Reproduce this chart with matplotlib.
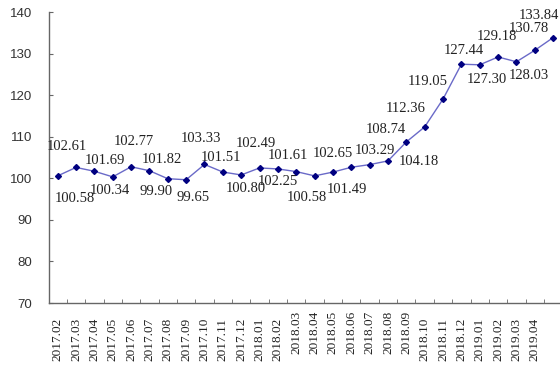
import numpy as np
import matplotlib
matplotlib.use("Agg")
import matplotlib.pyplot as plt
from matplotlib.transforms import ScaledTranslation

# data
months = ["2017.02", "2017.03", "2017.04", "2017.05", "2017.06", "2017.07",
          "2017.08", "2017.09", "2017.10", "2017.11", "2017.12", "2018.01",
          "2018.02", "2018.03", "2018.04", "2018.05", "2018.06", "2018.07",
          "2018.08", "2018.09", "2018.10", "2018.11", "2018.12", "2019.01",
          "2019.02", "2019.03", "2019.04", ""]
values = [100.58, 102.61, 101.69, 100.34, 102.77, 101.82, 99.90, 99.65,
          103.33, 101.51, 100.80, 102.49, 102.25, 101.61, 100.58, 101.49,
          102.65, 103.29, 104.18, 108.74, 112.36, 119.05, 127.44, 127.30,
          129.18, 128.03, 130.78, 133.84]
y_ticks = [70, 80, 90, 100, 110, 120, 130, 140]

# label offsets in pixels (dx, dy with down positive)
label_offsets = [(17, 23), (-9, -21), (11, -11), (-3, 14), (3, -25), (12, -11),
                 (-12, 13), (7, 18), (-4, -26), (-2, -15), (5, 14), (-4, -24),
                 (0, 12.5), (-8, -15.6), (-8, 22), (14, 17), (-18.5, -13.6),
                 (5, -14), (31, 0.7), (-20.5, -12.6), (-19, -18.5), (-15.7, -18),
                 (2, -14), (7.6, 14.6), (-1, -20), (12, 14), (-6, -22), (-14, -22.6)]
raised = ["2018.03", "2018.04", "2018.05", "2018.06", "2018.07", "2018.08", "2018.09"]

fig = plt.figure(figsize=(5.6, 3.69), dpi=100)
ax = fig.add_axes([48.5 / 560, 66 / 369, 28 * 18.35 / 560, 291 / 369])

x = np.arange(len(values))
ax.plot(x, values, color="#6A6AC8", lw=1, marker="D", ms=3,
        mfc="#000080", mec="#000080", zorder=3)

for xi, v, (dx, dy) in zip(x, values, label_offsets):
    ax.annotate(f"{v:.2f}", (xi, v), xytext=(dx, -dy), textcoords="offset pixels",
                ha="center", va="center", fontsize=10.5, family="Liberation Serif",
                color="#222222")

ax.set_xlim(-0.5, len(values) - 0.5)
ax.set_ylim(70, 140)
ax.set_yticks(y_ticks)
ax.set_yticklabels([str(t) for t in y_ticks], family="Liberation Sans", fontsize=9.5,
                   color="#333333")

ax.set_xticks(x[:-1])
ax.set_xticklabels(months[:-1], rotation=90, family="Liberation Serif", fontsize=9.5,
                   color="#222222", va="top")
ax.set_xticks(np.arange(0.5, len(values) - 1, 1.0), minor=True)
ax.tick_params(axis="x", which="major", length=0, pad=10.8)
ax.tick_params(axis="x", which="minor", length=3, direction="in", color="#666666")
ax.tick_params(axis="y", length=3, direction="in", pad=11.5, color="#666666")

for lab in ax.get_xticklabels():
    if lab.get_text() in raised:
        lab.set_transform(lab.get_transform() + ScaledTranslation(0, 7 / 100, fig.dpi_scale_trans))

for s in ["top", "right"]:
    ax.spines[s].set_visible(False)
for s in ["left", "bottom"]:
    ax.spines[s].set_color("#666666")
    ax.spines[s].set_linewidth(1)

fig.savefig("out.png", dpi=100)
